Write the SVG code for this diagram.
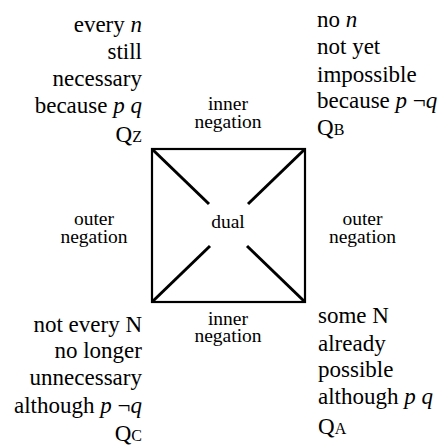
<svg xmlns="http://www.w3.org/2000/svg" width="442" height="446" viewBox="0 0 442 446">
<style>
text{font-family:"Liberation Serif","Times New Roman","DejaVu Serif",serif;fill:#000}
.t{font-size:23px}
.s{font-size:19.5px;text-anchor:middle}
.i{font-style:italic}
.sub{font-size:16px}
.r{text-anchor:end}
.edge{stroke:#000;stroke-width:2.2;fill:none}
.diag{stroke:#000;stroke-width:3;fill:none}
</style>
<rect width="442" height="446" fill="#fff"/>
<g id="connectors">
<rect class="edge" x="152" y="149" width="153" height="153"/>
<line class="diag" x1="152" y1="149" x2="209" y2="204"/>
<line class="diag" x1="305" y1="149" x2="248" y2="204"/>
<line class="diag" x1="152" y1="302" x2="210" y2="246"/>
<line class="diag" x1="305" y1="302" x2="247" y2="246"/>
<text class="s" x="228" y="110" font-family="Liberation Serif">inner</text>
<text class="s" x="228" y="128" font-family="Liberation Serif">negation</text>
<text class="s" x="228" y="325" font-family="Liberation Serif">inner</text>
<text class="s" x="228" y="342" font-family="Liberation Serif">negation</text>
<text class="s" x="94" y="225" font-family="Liberation Serif">outer</text>
<text class="s" x="94" y="243" font-family="Liberation Serif">negation</text>
<text class="s" x="362.5" y="225" font-family="Liberation Serif">outer</text>
<text class="s" x="362.5" y="243" font-family="Liberation Serif">negation</text>
<text class="s" x="228" y="228" font-size="20" font-family="Liberation Serif">dual</text>
</g>
<g id="QZ" font-family="Liberation Serif">
<text class="t r" x="142" y="32">every <tspan class="i">n</tspan></text>
<text class="t r" x="142" y="59">still</text>
<text class="t r" x="142" y="86">necessary</text>
<text class="t r" x="142" y="113">because <tspan class="i">p q</tspan></text>
<text class="t r" x="142" y="142">Q<tspan class="sub">Z</tspan></text>
</g>
<g id="QB" font-family="Liberation Serif">
<text class="t" x="317" y="27">no <tspan class="i">n</tspan></text>
<text class="t" x="317" y="54">not yet</text>
<text class="t" x="317" y="82">impossible</text>
<text class="t" x="317" y="108">because <tspan class="i">p</tspan> ¬<tspan class="i">q</tspan></text>
<text class="t" x="317" y="135">Q<tspan class="sub">B</tspan></text>
</g>
<g id="QC" font-family="Liberation Serif">
<text class="t r" x="142" y="332">not every N</text>
<text class="t r" x="142" y="358">no longer</text>
<text class="t r" x="142" y="385">unnecessary</text>
<text class="t r" x="142" y="413">although <tspan class="i">p</tspan> ¬<tspan class="i">q</tspan></text>
<text class="t r" x="142" y="441">Q<tspan class="sub">C</tspan></text>
</g>
<g id="QA" font-family="Liberation Serif">
<text class="t" x="318" y="323">some N</text>
<text class="t" x="318" y="351">already</text>
<text class="t" x="318" y="377">possible</text>
<text class="t" x="318" y="404">although <tspan class="i">p q</tspan></text>
<text class="t" x="318" y="434">Q<tspan class="sub">A</tspan></text>
</g>
</svg>
